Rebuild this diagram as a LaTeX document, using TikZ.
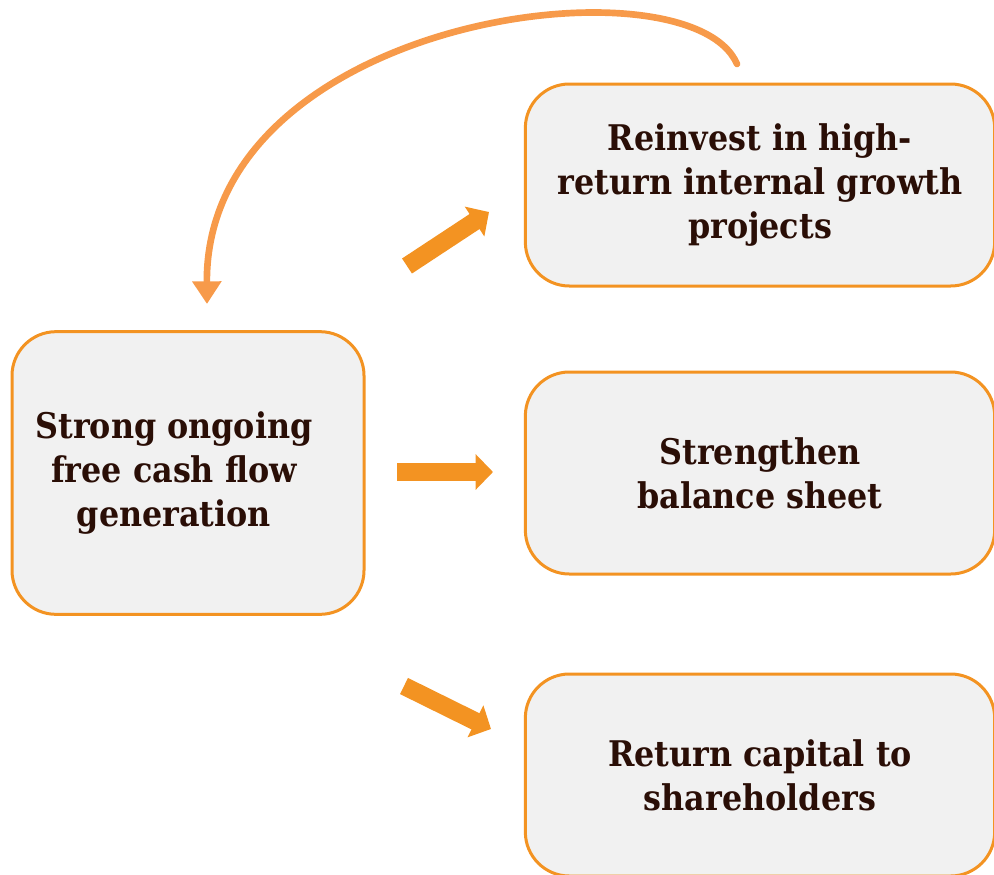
\documentclass[tikz,border=0pt]{standalone}
\usepackage{fontspec}
\setmainfont{DejaVu Serif Condensed}[BoldFont={DejaVu Serif Condensed Bold}]
\usepackage{xcolor}
\usepackage{tikz}
\usetikzlibrary{arrows.meta}
\definecolor{boxfill}{HTML}{F1F1F1}
\definecolor{boxline}{HTML}{F39322}
\definecolor{ink}{HTML}{2A0E06}
\definecolor{flowc}{HTML}{F39322}
\definecolor{loopc}{HTML}{F79A4A}
\tikzset{
  box/.style={draw=boxline, fill=boxfill, line width=2.25pt, rounded corners=33pt,
    text=ink, font=\bfseries\fontsize{26.5}{33}\selectfont, align=center, inner sep=0pt},
  flow/.style={draw=flowc, line width=13.5pt, -{Triangle[width=26pt,length=13pt]}},
  loopback/.style={draw=loopc, line width=5pt, line cap=round, -{Triangle[width=21pt,length=17pt]}},
}
\newcommand{\trail}{\rule{21pt}{0pt}}

\begin{document}
\begin{tikzpicture}[x=0.75pt, y=-0.75pt]
  \useasboundingbox (0,0) rectangle (994,874);
  % source on the left, three uses stacked on the right
  \node[box, minimum width=264pt, minimum height=212pt] (fcf) at (188,473)
    {Strong ongoing\trail\\free cash flow\trail\\generation\trail};
  \node[box, minimum width=352pt, minimum height=151.5pt] (reinvest) at (760,185)
    {Reinvest in high-\\return internal growth\\projects};
  \node[box, minimum width=352pt, minimum height=151.5pt] (balance) at (760,473)
    {Strengthen\\balance sheet};
  \node[box, minimum width=352pt, minimum height=151.5pt] (payout) at (760,775)
    {Return capital to\\shareholders};
  % block arrows between the columns
  \coordinate (up0) at (407,266);   \coordinate (up1) at (489,212);
  \coordinate (mid0) at (397,472);  \coordinate (mid1) at (493,472);
  \coordinate (lo0) at (404,686);   \coordinate (lo1) at (491,729);
  \draw[flow] (up0) -- (up1);
  \draw[flow] (mid0) -- (mid1);
  \draw[flow] (lo0) -- (lo1);
  % loop back from reinvestment to cash flow
  \coordinate (loopstart) at (737,64);
  \coordinate (loopend) at (207,304);
  \draw[loopback] (loopstart) .. controls (690,-45) and (205,15) .. (loopend);
\end{tikzpicture}
\end{document}
